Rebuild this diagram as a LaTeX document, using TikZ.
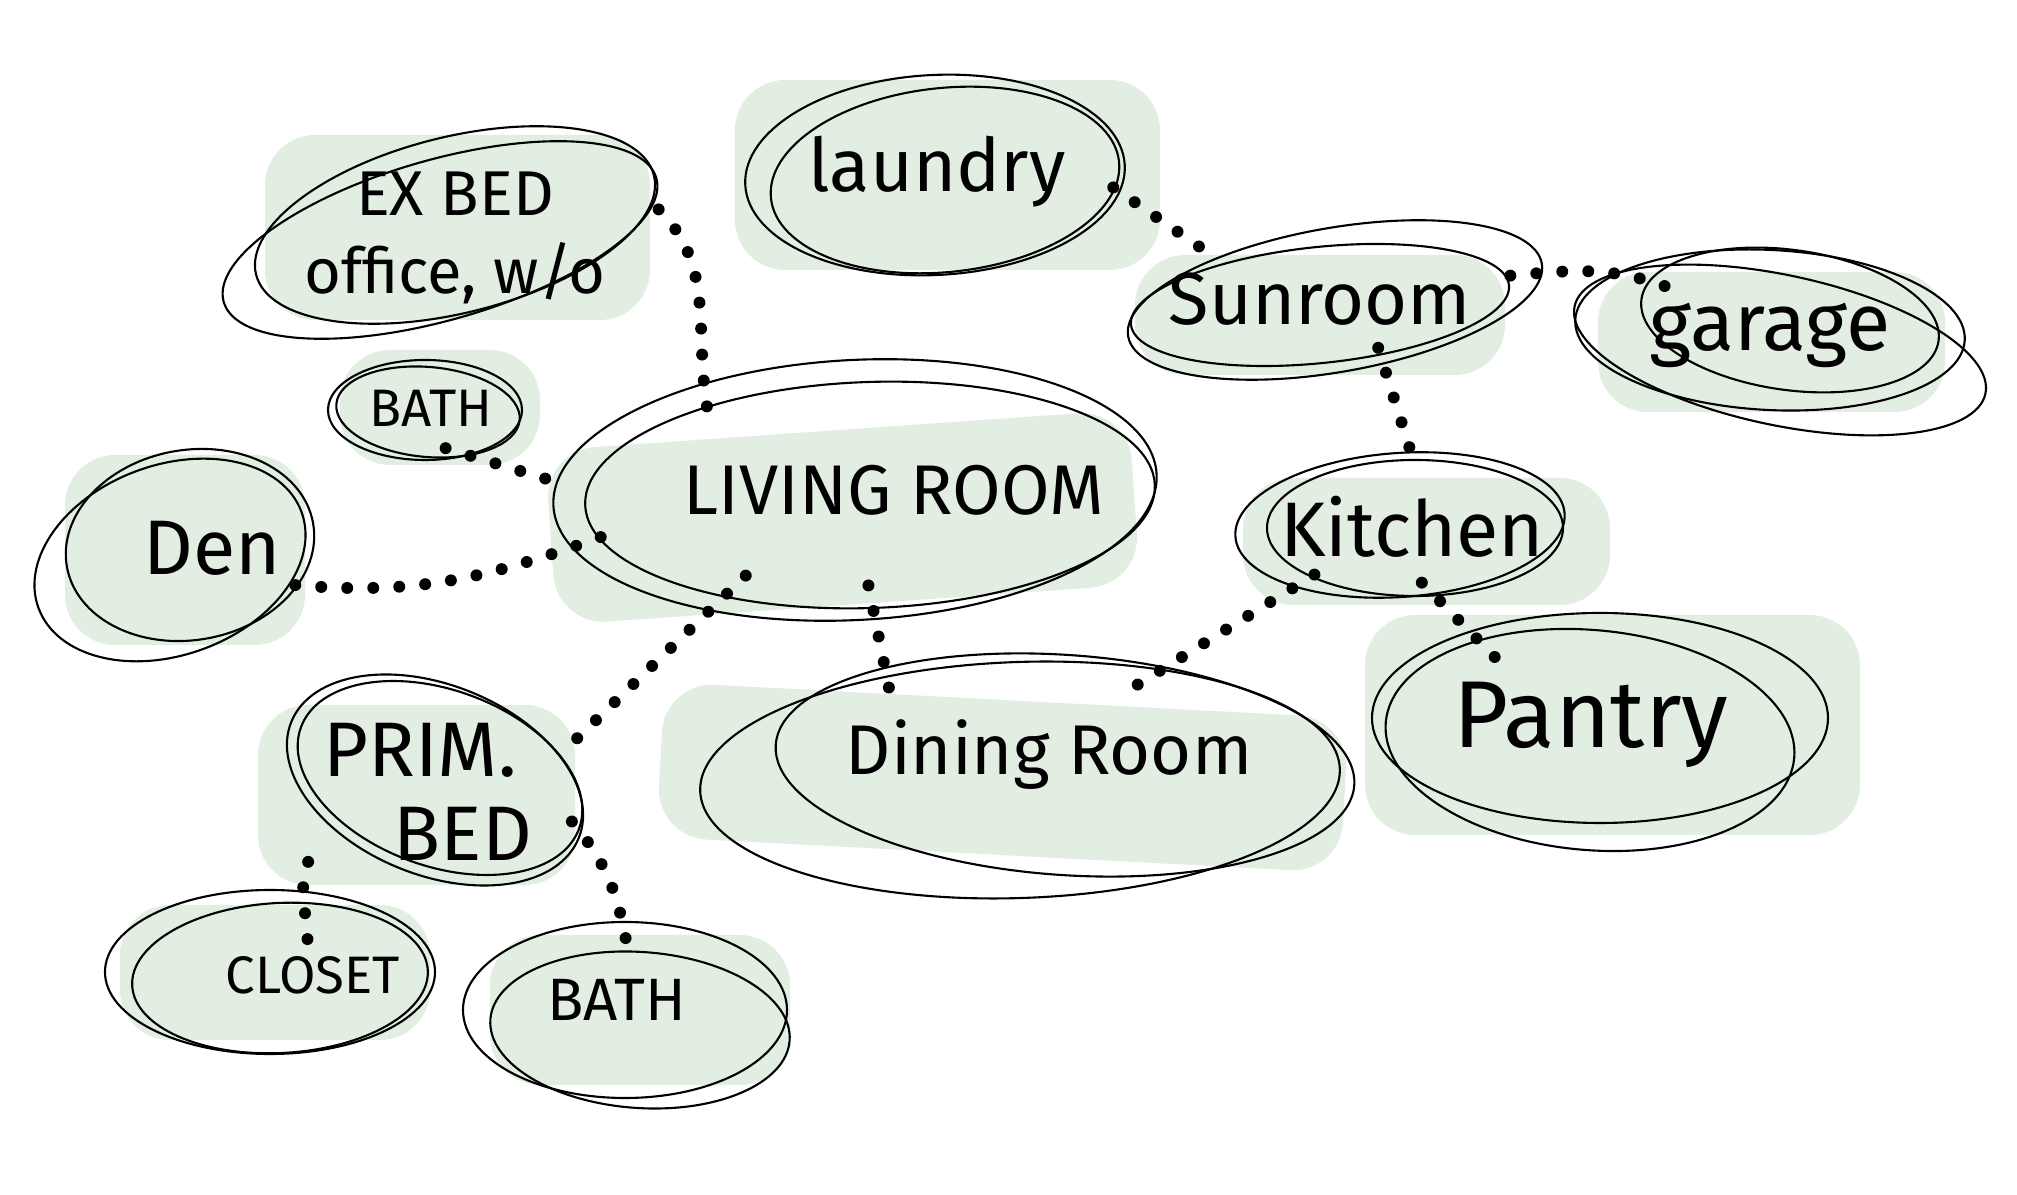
\documentclass[tikz,border=0pt]{standalone}
\usepackage{fontspec}
\setmainfont{Fira Sans}
\usetikzlibrary{shapes.geometric}
\definecolor{sage}{HTML}{E3EEE2}
\tikzset{
  room/.style={ellipse, inner sep=0pt, align=center},
  sketch/.style={draw=black, line width=0.6pt},
  wash/.style={fill=sage, rounded corners=0.5cm},
  dotted line/.style={line width=3.4pt, line cap=round, dash pattern=on 0pt off 7.4pt},
}
\newcommand{\fs}[1]{\fontsize{#1}{#1}\selectfont}

\begin{document}
\begin{tikzpicture}[x=0.01cm, y=-0.01cm]
\useasboundingbox (0,0) rectangle (2017,1195);

% green washes
\fill[wash] (265,135) rectangle (650,320);
\fill[wash] (340,350) rectangle (540,465);
\fill[wash] (65,455) rectangle (305,645);
\fill[wash, rotate around={4:(842,517)}] (550,430) rectangle (1135,605);
\fill[wash] (735,80) rectangle (1160,270);
\fill[wash] (1135,255) rectangle (1505,375);
\fill[wash] (1598,272) rectangle (1945,412);
\fill[wash] (1243,478) rectangle (1610,605);
\fill[wash] (1365,615) rectangle (1860,835);
\fill[wash, rotate around={-3:(1002,777)}] (660,700) rectangle (1345,855);
\fill[wash] (258,705) rectangle (575,885);
\fill[wash] (120,905) rectangle (430,1040);
\fill[wash] (490,935) rectangle (790,1085);

% sketched loops
\draw[sketch, rotate around={14:(455,225)}] (455,225) ellipse (205 and 88);
\draw[sketch, rotate around={16:(440,240)}] (440,240) ellipse (225 and 80);
\draw[sketch] (425,410) ellipse (97 and 50);
\draw[sketch, rotate around={-5:(428,412)}] (428,412) ellipse (92 and 45);
\draw[sketch, rotate around={10:(190,545)}] (190,545) ellipse (125 and 95);
\draw[sketch, rotate around={20:(170,560)}] (170,560) ellipse (140 and 95);
\draw[sketch, rotate around={3:(855,490)}] (855,490) ellipse (302 and 130);
\draw[sketch, rotate around={2:(870,495)}] (870,495) ellipse (285 and 113);
\draw[sketch, rotate around={3:(935,175)}] (935,175) ellipse (190 and 100);
\draw[sketch, rotate around={6:(945,180)}] (945,180) ellipse (175 and 92);
\draw[sketch, rotate around={10:(1335,300)}] (1335,300) ellipse (210 and 72);
\draw[sketch, rotate around={6:(1320,305)}] (1320,305) ellipse (190 and 58);
\draw[sketch, rotate around={-3:(1770,330)}] (1770,330) ellipse (195 and 80);
\draw[sketch, rotate around={-8:(1790,320)}] (1790,320) ellipse (150 and 70);
\draw[sketch, rotate around={-12:(1780,350)}] (1780,350) ellipse (210 and 75);
\draw[sketch, rotate around={4:(1400,525)}] (1400,525) ellipse (165 and 72);
\draw[sketch] (1415,528) ellipse (148 and 68);
\draw[sketch] (1600,718) ellipse (228 and 105);
\draw[sketch, rotate around={-5:(1590,740)}] (1590,740) ellipse (205 and 110);
\draw[sketch, rotate around={2:(1020,780)}] (1020,780) ellipse (320 and 118);
\draw[sketch, rotate around={-4:(1065,765)}] (1065,765) ellipse (290 and 110);
\draw[sketch, rotate around={-22:(435,780)}] (435,780) ellipse (155 and 95);
\draw[sketch, rotate around={-20:(440,778)}] (440,778) ellipse (148 and 88);
\draw[sketch] (270,972) ellipse (165 and 82);
\draw[sketch, rotate around={3:(280,978)}] (280,978) ellipse (148 and 75);
\draw[sketch] (625,1010) ellipse (162 and 88);
\draw[sketch, rotate around={-4:(640,1030)}] (640,1030) ellipse (150 and 78);

% rooms
\node[room, font=\fs{18}, minimum width=3.3cm, minimum height=1.5cm] (exbed) at (455,238) {EX BED\\[4pt]office, w/o};
\node[room, font=\fs{15}, minimum width=1.8cm, minimum height=0.8cm] (bathA) at (431,408) {BATH};
\node[room, font=\fs{22}, minimum width=1.8cm, minimum height=1.4cm] (den) at (212,548) {Den};
\node[room, font=\fs{20}, minimum width=6.6cm, minimum height=1.9cm] (living) at (894,490) {LIVING ROOM};
\node[room, font=\fs{21}, minimum width=3.2cm, minimum height=1.2cm] (laundry) at (937,172) {laundry};
\node[room, font=\fs{21}, minimum width=3.4cm, minimum height=1cm] (sunroom) at (1320,299) {Sunroom};
\node[room, font=\fs{23}, minimum width=3cm, minimum height=1.2cm] (garage) at (1770,335) {garage};
\node[room, font=\fs{22}, minimum width=3cm, minimum height=1.1cm] (kitchen) at (1412,527) {Kitchen};
\node[room, font=\fs{27}, minimum width=3.3cm, minimum height=1.5cm] (pantry) at (1591,725) {Pantry};
\node[room, font=\fs{20}, minimum width=5.2cm, minimum height=1.2cm] (dining) at (1049,755) {Dining Room};
\node[room, font=\fs{22}, minimum width=2.6cm, minimum height=1.7cm] (prim) at (420,792) {PRIM.\\[2pt]\hspace*{0.86cm}BED};
\node[room, font=\fs{15}, minimum width=2.2cm, minimum height=0.6cm] (closet) at (313,975) {CLOSET};
\node[room, font=\fs{17}, minimum width=2.2cm, minimum height=1.1cm] (bathB) at (617,1000) {BATH};

% links
\draw[dotted line] (exbed.8) to[out=-45, in=100] (living.157);
\draw[dotted line] (bathA.-70) -- (living.179);
\draw[dotted line] (den.-24) to[out=-5, in=200] (living.189);
\draw[dotted line] (living.210) -- (prim.16);
\draw[dotted line] (living.255) -- (dining.162);
\draw[dotted line] (laundry.-5) -- (sunroom.158);
\draw[dotted line] (sunroom.7) to[out=5, in=160] (garage.155);
\draw[dotted line] (sunroom.-40) -- (kitchen.85);
\draw[dotted line] (kitchen.206) -- (dining.40);
\draw[dotted line] (kitchen.-80) -- (pantry.145);
\draw[dotted line] (prim.212) to[out=250, in=90] (closet.100);
\draw[dotted line] (prim.-11) to[out=-50, in=100] (bathB.80);
\end{tikzpicture}
\end{document}
